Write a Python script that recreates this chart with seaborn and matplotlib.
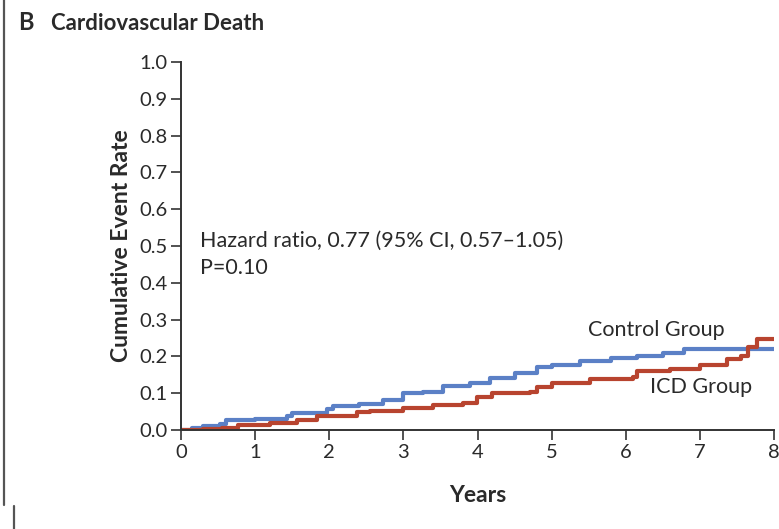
import matplotlib

matplotlib.use("Agg")
import matplotlib.pyplot as plt
import pandas as pd
import seaborn as sns

""" Kaplan-Meier style plot: cardiovascular death, ICD vs control """

# Step points (years, cumulative event rate)
control_years = [0.0, 0.15, 0.3, 0.53, 0.6, 1.0, 1.43, 1.5, 1.97, 2.05, 2.4, 2.73,
                 3.0, 3.27, 3.54, 3.9, 4.17, 4.5, 4.8, 5.0, 5.38, 5.8, 6.15, 6.5,
                 6.78, 7.2, 7.6, 8.0]
control_rate = [0.0, 0.006, 0.012, 0.016, 0.027, 0.031, 0.038, 0.047, 0.056, 0.065,
                0.072, 0.082, 0.10, 0.104, 0.12, 0.128, 0.141, 0.155, 0.172, 0.178,
                0.188, 0.195, 0.201, 0.208, 0.219, 0.219, 0.219, 0.219]

icd_years = [0.0, 0.3, 0.55, 0.77, 1.2, 1.56, 1.83, 2.37, 2.55, 2.99, 3.4, 3.8,
             3.99, 4.2, 4.71, 4.8, 5.0, 5.52, 6.1, 6.15, 6.6, 7.0, 7.37, 7.56,
             7.65, 7.77, 8.0]
icd_rate = [0.0, 0.002, 0.005, 0.013, 0.02, 0.028, 0.038, 0.048, 0.053, 0.06,
            0.068, 0.073, 0.09, 0.101, 0.103, 0.118, 0.127, 0.138, 0.145, 0.161,
            0.167, 0.177, 0.192, 0.2, 0.226, 0.246, 0.246]

group_labels = ["Control Group", "ICD Group"]
group_colors = ["#5b80c6", "#b8442f"]
y_ticks = [0.0, 0.1, 0.2, 0.3, 0.4, 0.5, 0.6, 0.7, 0.8, 0.9, 1.0]
x_ticks = [0, 1, 2, 3, 4, 5, 6, 7, 8]

TEXT_COLOR = "#2a2a2a"


def _build_frame() -> pd.DataFrame:
    _dfs = []
    for label, xs, ys in zip(group_labels, [control_years, icd_years],
                             [control_rate, icd_rate]):
        _df = pd.DataFrame({"years": xs, "rate": ys})
        _df.loc[:, "group"] = label
        _dfs.append(_df)
    return pd.concat(_dfs, ignore_index=True)


def plot_data() -> None:
    sns.set_style("ticks")
    plt.rcParams["font.family"] = ["Lato", "DejaVu Sans"]
    df = _build_frame()

    fig = plt.figure(figsize=(7.79, 5.29), dpi=100)
    ax = fig.add_axes([0.2324, 0.1871, 0.7612, 0.6957])
    sns.lineplot(data=df, x="years", y="rate", hue="group", hue_order=group_labels,
                 palette=group_colors, drawstyle="steps-post", linewidth=3,
                 legend=False, ax=ax)

    ax.set_xlim(0, 8)
    ax.set_ylim(0, 1.0)
    ax.set_xticks(x_ticks)
    ax.set_yticks(y_ticks)
    ax.set_yticklabels(["{:.1f}".format(t) for t in y_ticks])
    ax.tick_params(axis="both", labelsize=14.5, colors="#333333", length=7,
                   width=1.2, direction="out", pad=3)
    ax.tick_params(axis="both", labelcolor=TEXT_COLOR)
    for side in ["top", "right"]:
        ax.spines[side].set_visible(False)
    for side in ["left", "bottom"]:
        ax.spines[side].set_color("#333333")
        ax.spines[side].set_linewidth(1.4)

    ax.set_xlabel("Years", fontsize=16.5, fontweight="bold", color=TEXT_COLOR,
                  labelpad=17)
    ax.set_ylabel("Cumulative Event Rate", fontsize=16.5, fontweight="bold",
                  color=TEXT_COLOR, labelpad=5)

    ax.text(0.256, 0.514, "Hazard ratio, 0.77 (95% CI, 0.57\u20131.05)",
            fontsize=15.5, color=TEXT_COLOR, va="center")
    ax.text(0.256, 0.44, "P=0.10", fontsize=15.5, color=TEXT_COLOR, va="center")
    ax.text(5.49, 0.272, "Control Group", fontsize=15.5, color=TEXT_COLOR,
            va="center")
    ax.text(6.33, 0.117, "ICD Group", fontsize=15.5, color=TEXT_COLOR,
            va="center")

    fig.text(18 / 779, 1 - 23 / 529, "B", fontsize=17, fontweight="bold",
             color=TEXT_COLOR, va="center")
    fig.text(51 / 779, 1 - 23 / 529, "Cardiovascular Death", fontsize=16,
             fontweight="bold", color=TEXT_COLOR, va="center")

    # Panel border marks on the left edge
    fig.add_artist(plt.Line2D([3.5 / 779, 3.5 / 779], [1.0, 1 - 505 / 529],
                              transform=fig.transFigure, color="#555555",
                              linewidth=1.6))
    fig.add_artist(plt.Line2D([13.5 / 779, 13.5 / 779], [1 - 506 / 529, 0.0],
                              transform=fig.transFigure, color="#555555",
                              linewidth=1.6))

    fig.savefig("out.png", dpi=100, facecolor="white")


if __name__ == "__main__":
    plot_data()
